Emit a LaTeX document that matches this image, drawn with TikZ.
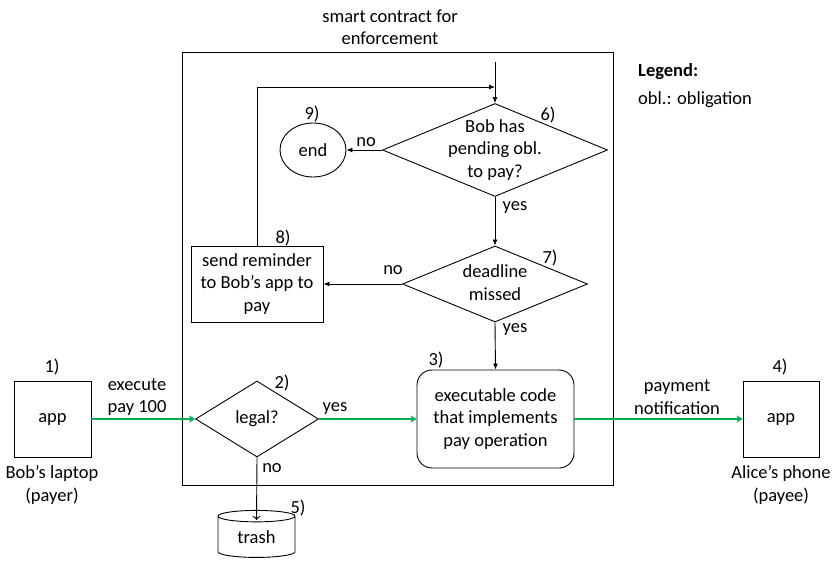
\documentclass[tikz,border=0pt]{standalone}
\usepackage{fontspec}
\setmainfont{Carlito}
\usetikzlibrary{shapes.geometric,arrows.meta}
\definecolor{flowgreen}{RGB}{0,176,80}
\newcommand\fs{\fontsize{18.5}{22.5}\selectfont}
\newcommand\flattext[1]{\makebox[0pt]{\smash{\raisebox{-.25em}{\begin{tabular}{@{}c@{}}#1\end{tabular}}}}}
\begin{document}
\begin{tikzpicture}[x=1pt,y=-1pt,
  every node/.style={font=\fs, inner sep=0pt},
  boxnode/.style={draw, line width=0.9pt, align=center},
  dianode/.style={draw, diamond, line width=0.9pt},
  blkarrow/.style={draw, line width=0.9pt, -{Latex[length=6pt,width=5pt]}},
  openarrow/.style={draw, line width=0.9pt, -{To[length=4pt,width=8pt]}},
  grnarrow/.style={draw=flowgreen, line width=1.6pt, -{Stealth[length=6pt,width=7pt,inset=1.5pt]}},
  lbl/.style={align=center}
]
\useasboundingbox (0,0) rectangle (832,561);

% title and frame
\node[lbl] (title) at (390,27) {smart contract for\\enforcement};
\node[draw, line width=0.9pt, minimum width=431, minimum height=433] (sc) at (397.5,268.5) {};

% legend
\node[anchor=west] (leg) at (638,72) {\textbf{Legend:}};
\node[anchor=west] (legobl) at (638,100) {obl.: obligation};

% decision 6 and end 9
\node[dianode, minimum width=225, minimum height=93] (d6) at (495,150) {\flattext{Bob has\\pending obl.\\to pay?}};
\node (n6) at (548,115) {6)};
\node[draw, ellipse, line width=0.9pt, minimum width=66, minimum height=54] (endn) at (313,150) {end};
\node (n9) at (312,114) {9)};

% decision 7 and reminder 8
\node[dianode, minimum width=185, minimum height=76] (d7) at (495,284) {\flattext{deadline\\missed}};
\node (n7) at (550,258) {7)};
\node[boxnode, minimum width=132, minimum height=76] (b8) at (257,284) {send reminder\\to Bob’s app to\\pay};
\node (n8) at (283,238) {8)};

% legal? and code 3
\node[dianode, minimum width=123, minimum height=76] (d2) at (257,419) {\flattext{legal?}};
\node (n2) at (282,383) {2)};
\node[boxnode, rounded corners=15pt, minimum width=157, minimum height=98] (b3) at (495.5,419) {executable code\\that implements\\pay operation};
\node (n3) at (436,360) {3)};

% trash
\node[draw, cylinder, shape border rotate=90, aspect=0.3, line width=0.9pt, minimum height=47, minimum width=77] (trash) at (256.5,537) {trash};
\node (n5) at (298,508) {5)};

% apps
\node[boxnode, minimum width=77, minimum height=76] (app1) at (52.5,419) {app};
\node (n1) at (52,367) {1)};
\node[lbl] (bob) at (52,485) {Bob’s laptop\\(payer)};
\node[boxnode, minimum width=76, minimum height=76] (app4) at (781,419) {app};
\node (n4) at (780,367) {4)};
\node[lbl] (alice) at (781,485) {Alice’s phone\\(payee)};

% connectors
\coordinate (topin) at (495,62);
\coordinate (join) at (495,87);
\draw[blkarrow] (topin) -- (d6.north);
\draw[blkarrow] (b8.north) |- (join);
\draw[blkarrow] (d6.west) -- node[pos=0.45, above=3pt] {no} (endn.east);
\draw[blkarrow] (d6.south) -- (d7.north);
\node (yes6) at (515,208) {yes};
\draw[blkarrow] (d7.west) -- (b8.east);
\node (no7) at (393,270) {no};
\draw[blkarrow] (d7.south) -- (b3.north);
\node (yes7) at (515,330) {yes};
\draw[openarrow] (d2.south) -- ([yshift=-10pt]trash.north);
\node (no2) at (272,468) {no};

\draw[grnarrow] (app1.east) -- (d2.west);
\node[lbl] (exec) at (137,397) {execute\\pay 100};
\draw[grnarrow] (d2.east) -- (b3.west);
\node (yes2) at (335,409) {yes};
\draw[grnarrow] (b3.east) -- (app4.west);
\node[lbl] (notif) at (677,397) {payment\\notification};
\end{tikzpicture}
\end{document}
